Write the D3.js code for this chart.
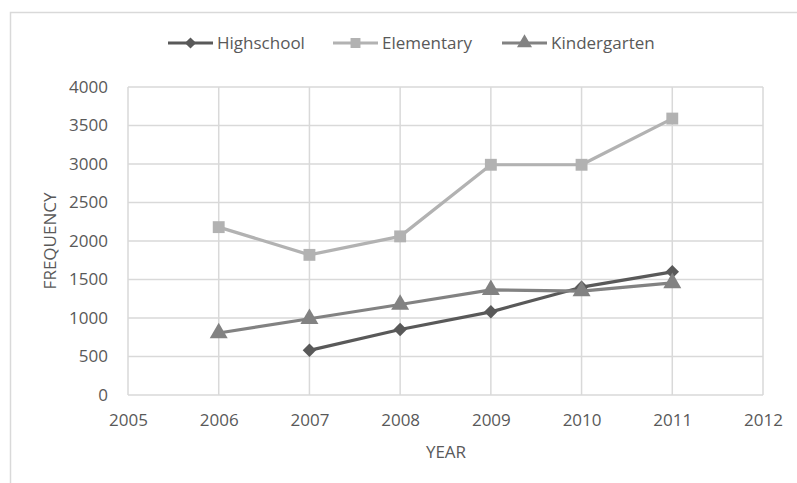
<!DOCTYPE html>
<html>
<head>
<meta charset="utf-8">
<script src="https://cdn.jsdelivr.net/npm/d3@7/dist/d3.min.js"></script>
<style>
  html, body { margin: 0; padding: 0; background: #fff; }
  svg { display: block; }
  text { font-family: "Open Sans", "Liberation Sans", sans-serif; fill: #595959; }
</style>
</head>
<body>
<svg id="chart" width="797" height="483"></svg>
<script>
// Enrolment frequency by year
const years = [2006, 2007, 2008, 2009, 2010, 2011];
const highschool   = [null, 580, 850, 1080, 1400, 1600];
const elementary   = [2180, 1820, 2060, 2990, 2990, 3590];
const kindergarten = [805, 990, 1175, 1365, 1350, 1455];
const xTicks = [2005, 2006, 2007, 2008, 2009, 2010, 2011, 2012];
const yTicks = [0, 500, 1000, 1500, 2000, 2500, 3000, 3500, 4000];

const series = [
  { name: "Highschool",   values: highschool,   color: "#595959", shape: d3.symbolDiamond2, size: 115 },
  { name: "Elementary",   values: elementary,   color: "#b2b2b2", shape: d3.symbolSquare2,  size: 180 },
  { name: "Kindergarten", values: kindergarten, color: "#828282", shape: d3.symbolTriangle, size: 140 }
];

const svg = d3.select("#chart");
const m = { left: 128, right: 763, top: 87, bottom: 395 };
const fontSize = "17px";

const x = d3.scaleLinear().domain([2005, 2012]).range([m.left, m.right]);
const y = d3.scaleLinear().domain([0, 4000]).range([m.bottom, m.top]);

// outer chart frame
svg.append("rect")
  .attr("x", 10.5).attr("y", 12.5).attr("width", 800).attr("height", 480)
  .attr("fill", "none").attr("stroke", "#d9d9d9").attr("stroke-width", 1.5);

// gridlines
const grid = svg.append("g").attr("stroke", "#d9d9d9").attr("stroke-width", 1.5);
grid.selectAll("line.h").data(yTicks).join("line")
  .attr("x1", m.left).attr("x2", m.right)
  .attr("y1", d => y(d)).attr("y2", d => y(d));
grid.selectAll("line.v").data(xTicks).join("line")
  .attr("y1", m.top).attr("y2", m.bottom)
  .attr("x1", d => x(d)).attr("x2", d => x(d));

// axes (labels only, no domain lines)
const yAxis = svg.append("g").attr("transform", `translate(${m.left},0)`)
  .call(d3.axisLeft(y).tickValues(yTicks).tickFormat(d3.format("d")).tickSize(0).tickPadding(20));
const xAxis = svg.append("g").attr("transform", `translate(0,${m.bottom})`)
  .call(d3.axisBottom(x).tickValues(xTicks).tickFormat(d3.format("d")).tickSize(0).tickPadding(19));
[yAxis, xAxis].forEach(a => {
  a.select(".domain").remove();
  a.selectAll("text").style("font-size", fontSize).attr("fill", "#595959")
    .style("font-family", "'Open Sans', 'Liberation Sans', sans-serif");
});

// axis titles
svg.append("text").attr("x", (m.left + m.right) / 2 + 0.5).attr("y", 458)
  .attr("text-anchor", "middle").style("font-size", fontSize).text("YEAR");
svg.append("text")
  .attr("transform", `translate(56,${(m.top + m.bottom) / 2}) rotate(-90)`)
  .attr("text-anchor", "middle").style("font-size", fontSize).text("FREQUENCY");

// series lines and markers
const line = d3.line()
  .defined(d => d.v != null)
  .x(d => x(d.year)).y(d => y(d.v));

series.forEach(s => {
  const pts = years.map((yr, i) => ({ year: yr, v: s.values[i] }));
  svg.append("path").datum(pts)
    .attr("fill", "none").attr("stroke", s.color).attr("stroke-width", 3.2)
    .attr("stroke-linejoin", "round").attr("d", line);
  svg.append("g").selectAll("path").data(pts.filter(d => d.v != null)).join("path")
    .attr("transform", d => `translate(${x(d.year)},${y(d.v)})`)
    .attr("d", d3.symbol().type(s.shape).size(s.size))
    .attr("fill", s.color);
});

// legend
const legendX = [168, 333, 502];
const legend = svg.append("g");
series.forEach((s, i) => {
  const g = legend.append("g").attr("transform", `translate(${legendX[i]},43)`);
  g.append("line").attr("x1", 0).attr("x2", 45).attr("y1", 0).attr("y2", 0)
    .attr("stroke", s.color).attr("stroke-width", 3.2);
  g.append("path").attr("transform", "translate(22.5,0)")
    .attr("d", d3.symbol().type(s.shape).size(s.size * 0.7)).attr("fill", s.color);
  g.append("text").attr("x", 49).attr("y", 0).attr("dy", "0.35em")
    .style("font-size", fontSize).text(s.name);
});
</script>
</body>
</html>
